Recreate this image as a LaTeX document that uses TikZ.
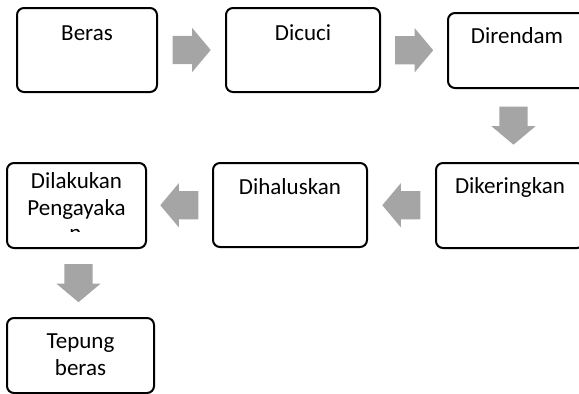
\documentclass[tikz,border=0pt]{standalone}
\usepackage{fontspec}
\setmainfont{Carlito}
\usetikzlibrary{shapes.arrows,calc}
\definecolor{arrowgray}{HTML}{A5A5A5}

\begin{document}
\begin{tikzpicture}[
  x=1pt,y=-1pt,
  box/.style={draw, line width=2pt, rounded corners=7pt, align=center, inner xsep=4pt, inner ysep=0pt, font=\fontsize{23}{27.5}\selectfont},
  blk/.style={single arrow, draw=none, fill=arrowgray, minimum height=38pt, minimum width=44pt, single arrow head extend=8pt, single arrow tip angle=100, inner xsep=0pt, inner ysep=14pt, anchor=tail}
]
\clip (0,0) rectangle (579,394);
% top row
\node[box, text width=132pt, text height=32pt, text depth=52pt] (beras) at (87,50) {Beras};
\node[box, text width=146pt, text height=32pt, text depth=52pt] (dicuci) at (303,50) {Dicuci};
\node[box, text width=130pt, text height=30pt, text depth=45pt] (direndam) at (517,50.5) {Direndam};
% middle row
\node[box, text width=140pt, text height=30pt, text depth=55pt] (dikeringkan) at (510,205.5) {Dikeringkan};
\node[box, text width=146pt, text height=31pt, text depth=53pt] (dihaluskan) at (290,205) {Dihaluskan};
\node[box, text width=131pt, text height=25pt, text depth=60pt] (pengayakan) at (76.5,205.5) {Dilakukan\\Pengayaka};
% overflowing last letter, cut at the text margin
\begin{scope}
  \clip (10,220) rectangle (140,231);
  \node[anchor=base, inner sep=0pt, font=\fontsize{23}{27.5}\selectfont] (pengayakan-n) at (75.5,240) {n};
\end{scope}
% bottom
\node[box, text width=139pt, text height=30pt, text depth=45pt] (tepung) at (80.5,355.5) {Tepung\\beras};

% block arrows (tail placed half a length before the gap's middle)
\node[blk] (a1) at ($(beras.east)!0.5!(dicuci.west)+(-19,0)$) {};
\node[blk] (a2) at ($(dicuci.east)!0.5!(direndam.west)+(-19,0)$) {};
\node[blk, rotate=-90] (a3) at ($(direndam.south)!0.5!(dikeringkan.north)+(0,-19)$) {};
\node[blk, rotate=180] (a4) at ($(dikeringkan.west)!0.5!(dihaluskan.east)+(19,0)$) {};
\node[blk, rotate=180] (a5) at ($(dihaluskan.west)!0.5!(pengayakan.east)+(19,0)$) {};
\node[blk, rotate=-90] (a6) at ($(pengayakan.south)!0.5!(tepung.north)+(0,-19)$) {};
\end{tikzpicture}
\end{document}
